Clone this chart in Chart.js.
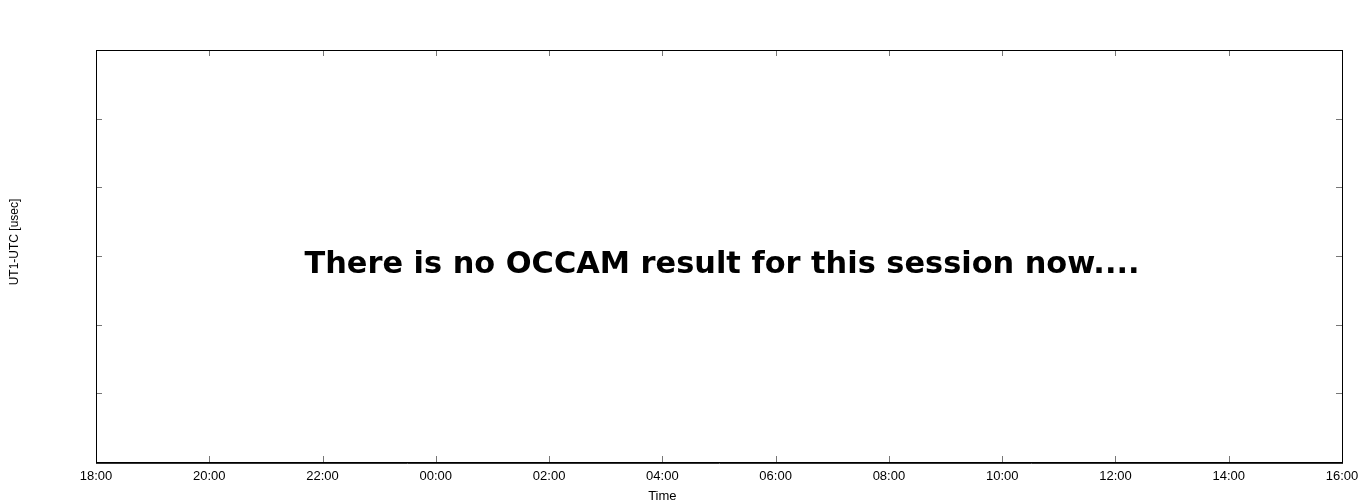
<!DOCTYPE html>
<html>
<head>
<meta charset="utf-8">
<script src="https://cdn.jsdelivr.net/npm/chart.js@4"></script>
<style>
  html, body { margin: 0; padding: 0; background: #fff; }
  #wrap { width: 1368px; height: 504px; }
</style>
</head>
<body>
<div id="wrap"><canvas id="myChart" width="1368" height="504"></canvas></div>
<script>
// x axis: hours since 18:00, labelled every 2 hours
const hourLabels = ["18:00","20:00","22:00","00:00","02:00","04:00","06:00","08:00","10:00","12:00","14:00","16:00"];
const xMin = 0;
const xMax = 22;
const yMin = 0;
const yMax = 6;
// no data for this session
const ut1Values = [];
const message = "There is no OCCAM result for this session now....";
const xTitle = "Time";
const yTitle = "UT1-UTC [usec]";

const frame = {
  id: 'frame',
  afterDraw(chart) {
    const ctx = chart.ctx;
    const a = chart.chartArea;
    const xs = chart.scales.x, ys = chart.scales.y;
    ctx.save();
    // inward ticks
    ctx.strokeStyle = '#777';
    ctx.lineWidth = 1;
    ctx.beginPath();
    xs.ticks.forEach((t, i) => {
      const px = Math.round(xs.getPixelForTick(i)) + 0.5;
      ctx.moveTo(px, a.bottom); ctx.lineTo(px, a.bottom - 6);
      ctx.moveTo(px, a.top); ctx.lineTo(px, a.top + 6);
    });
    ys.ticks.forEach((t, i) => {
      const py = Math.round(ys.getPixelForTick(i)) + 0.5;
      ctx.moveTo(a.left, py); ctx.lineTo(a.left + 6, py);
      ctx.moveTo(a.right, py); ctx.lineTo(a.right - 6, py);
    });
    ctx.stroke();
    // border
    ctx.strokeStyle = '#000';
    ctx.lineWidth = 1;
    ctx.strokeRect(Math.round(a.left) + 0.5, Math.round(a.top) + 0.5, Math.round(a.right - a.left), Math.round(a.bottom - a.top));
    ctx.strokeStyle = '#333';
    ctx.beginPath();
    ctx.moveTo(a.left, Math.round(a.bottom) + 1.5); ctx.lineTo(a.right + 1, Math.round(a.bottom) + 1.5);
    ctx.stroke();

    // axis titles
    ctx.fillStyle = '#000';
    ctx.font = '13px "Liberation Sans", Arial, sans-serif';
    ctx.textAlign = 'center';
    ctx.textBaseline = 'middle';
    ctx.fillText(xTitle, xs.getPixelForValue(10), 496);
    ctx.font = '12px "Liberation Sans", Arial, sans-serif';
    ctx.translate(15, 242);
    ctx.rotate(-Math.PI / 2);
    ctx.fillText(yTitle, 0, 0);
    ctx.restore();

    // message
    ctx.save();
    ctx.font = 'bold 30px "DejaVu Sans", Verdana, sans-serif';
    const w = ctx.measureText(message).width;
    const size = 30 * 834 / w;
    ctx.font = 'bold ' + size.toFixed(1) + 'px "DejaVu Sans", Verdana, sans-serif';
    ctx.fillStyle = '#000';
    ctx.textAlign = 'center';
    ctx.textBaseline = 'middle';
    ctx.fillText(message, 722, 265);
    ctx.restore();
  }
};

const ctx = document.getElementById('myChart').getContext('2d');
const myChart = new Chart(ctx, {
  type: 'line',
  data: {
    datasets: [{
      label: 'UT1-UTC',
      data: ut1Values,
      borderColor: 'red',
      pointRadius: 2
    }]
  },
  options: {
    responsive: false,
    animation: false,
    events: [],
    layout: { padding: { left: 0, right: 26, top: 50, bottom: 0 } },
    plugins: { legend: { display: false }, tooltip: { enabled: false } },
    scales: {
      x: {
        type: 'linear',
        min: xMin,
        max: xMax,
        border: { display: false },
        grid: { display: false, drawTicks: false },
        ticks: {
          stepSize: 2,
          padding: 7,
          color: '#000',
          maxRotation: 0,
          autoSkip: false,
          font: { family: '"Liberation Sans", Arial, sans-serif', size: 13 },
          callback: (v) => hourLabels[Math.round(v / 2)]
        },
        afterFit: (s) => { s.height = 42; }
      },
      y: {
        type: 'linear',
        min: yMin,
        max: yMax,
        border: { display: false },
        grid: { display: false, drawTicks: false },
        ticks: { stepSize: 1, display: true, callback: () => '' },
        afterFit: (s) => { s.width = 96; }
      }
    }
  },
  plugins: [frame]
});
</script>
</body>
</html>
